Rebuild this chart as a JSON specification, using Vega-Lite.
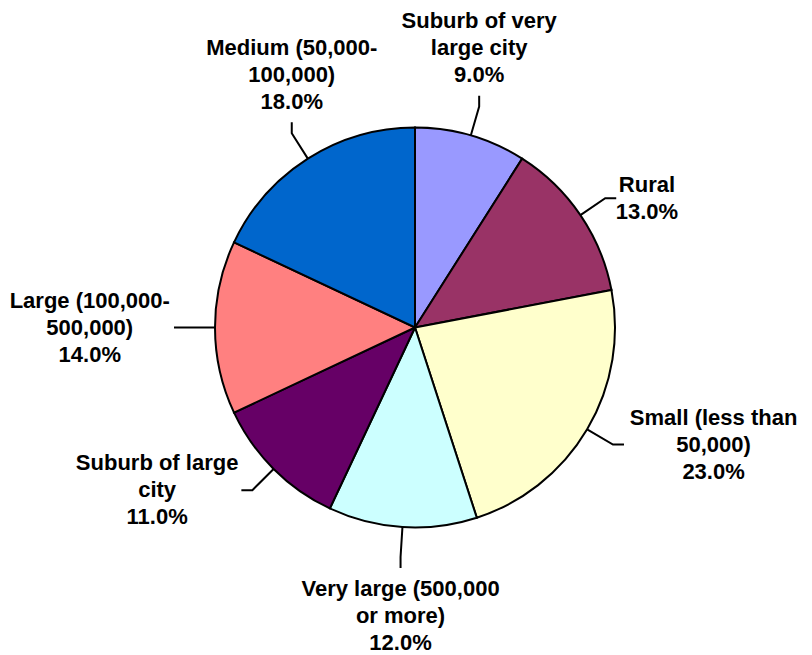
{
  "$schema": "https://vega.github.io/schema/vega-lite/v6.json",
  "width": 794,
  "height": 655,
  "padding": {"left": 18, "right": 0, "top": 0, "bottom": 0},
  "autosize": {"type": "none"},
  "background": "white",
  "config": {"view": {"stroke": null}},
  "data": {
    "values": [
      {"category": "Suburb of very large city", "label": "Suburb of very\nlarge city", "value": 9},
      {"category": "Rural", "label": "Rural", "value": 13},
      {"category": "Small (less than 50,000)", "label": "Small (less than\n50,000)", "value": 23},
      {"category": "Very large (500,000 or more)", "label": "Very large (500,000\nor more)", "value": 12},
      {"category": "Suburb of large city", "label": "Suburb of large\ncity", "value": 11},
      {"category": "Large (100,000-500,000)", "label": "Large (100,000-\n500,000)", "value": 14},
      {"category": "Medium (50,000-100,000)", "label": "Medium (50,000-\n100,000)", "value": 18}
    ]
  },
  "transform": [
    {"window": [{"op": "row_number", "as": "idx"}]},
    {"joinaggregate": [{"op": "sum", "field": "value", "as": "total"}]},
    {"window": [{"op": "sum", "field": "value", "as": "cum"}], "sort": [{"field": "idx"}], "frame": [null, 0]},
    {"calculate": "2*PI*(datum.cum - datum.value/2)/datum.total", "as": "mid"},
    {"calculate": "sin(datum.mid)", "as": "sx"},
    {"calculate": "cos(datum.mid)", "as": "cy"},
    {"calculate": "abs(datum.sx) > 0.7 ? (datum.sx > 0 ? 'R' : 'L') : (datum.cy > 0 ? 'T' : 'B')", "as": "side"},
    {"calculate": "230*datum.sx", "as": "ex"},
    {"calculate": "230*datum.cy", "as": "ey"},
    {"calculate": "datum.ex + (datum.side=='R' ? 11 : datum.side=='L' ? -11 : 0)", "as": "fx"},
    {"calculate": "datum.ey + (datum.side=='T' ? 11 : datum.side=='B' ? -11 : 0)", "as": "fy"}
  ],
  "layer": [
    {
      "mark": {"type": "arc", "outerRadius": 200, "stroke": "#000000", "strokeWidth": 2},
      "encoding": {
        "theta": {"field": "value", "type": "quantitative", "stack": true},
        "order": {"field": "idx", "type": "quantitative"},
        "color": {
          "field": "category",
          "type": "nominal",
          "scale": {
            "domain": ["Suburb of very large city", "Rural", "Small (less than 50,000)", "Very large (500,000 or more)", "Suburb of large city", "Large (100,000-500,000)", "Medium (50,000-100,000)"],
            "range": ["#9999FF", "#993366", "#FFFFCC", "#CCFFFF", "#660066", "#FF8080", "#0066CC"]
          },
          "legend": null
        }
      }
    },
    {
      "transform": [
        {"calculate": "[0,1,2]", "as": "pt"},
        {"flatten": ["pt"]},
        {"calculate": "datum.pt==0 ? 200*datum.sx : datum.pt==1 ? datum.ex : datum.fx", "as": "lx"},
        {"calculate": "datum.pt==0 ? 200*datum.cy : datum.pt==1 ? datum.ey : datum.fy", "as": "ly"}
      ],
      "mark": {"type": "line", "color": "#000000", "strokeWidth": 2},
      "encoding": {
        "x": {"field": "lx", "type": "quantitative", "scale": {"domain": [-397, 397], "nice": false, "zero": false}, "axis": null},
        "y": {"field": "ly", "type": "quantitative", "scale": {"domain": [-327.5, 327.5], "nice": false, "zero": false}, "axis": null},
        "detail": {"field": "category"},
        "order": {"field": "pt", "type": "quantitative"}
      }
    },
    {
      "transform": [
        {"calculate": "datum.label + '\\n' + format(datum.value/100, '.1%')", "as": "txt"},
        {"calculate": "split(datum.txt, '\\n')", "as": "lines"},
        {"calculate": "max(length(datum.lines[0]), length(datum.lines[1] || ''), length(datum.lines[2] || ''))", "as": "maxLen"},
        {"calculate": "length(datum.lines)", "as": "nLines"},
        {"calculate": "datum.side=='R' ? datum.fx + 4 + datum.maxLen*5.35 : datum.side=='L' ? datum.fx - 4 - datum.maxLen*5.35 : datum.fx", "as": "tx"},
        {"calculate": "(datum.side=='T' ? datum.fy + 7 + datum.nLines*13.5 : datum.side=='B' ? datum.fy - 7 - datum.nLines*13.5 : datum.fy) + (datum.nLines - 1)*13.5", "as": "ty"}
      ],
      "mark": {"type": "text", "align": "center", "baseline": "middle", "font": "Liberation Sans", "fontWeight": "bold", "fontSize": 22, "lineHeight": 27, "lineBreak": "\n", "color": "#000000"},
      "encoding": {
        "x": {"field": "tx", "type": "quantitative", "scale": {"domain": [-397, 397], "nice": false, "zero": false}, "axis": null},
        "y": {"field": "ty", "type": "quantitative", "scale": {"domain": [-327.5, 327.5], "nice": false, "zero": false}, "axis": null},
        "text": {"field": "txt"}
      }
    }
  ]
}
